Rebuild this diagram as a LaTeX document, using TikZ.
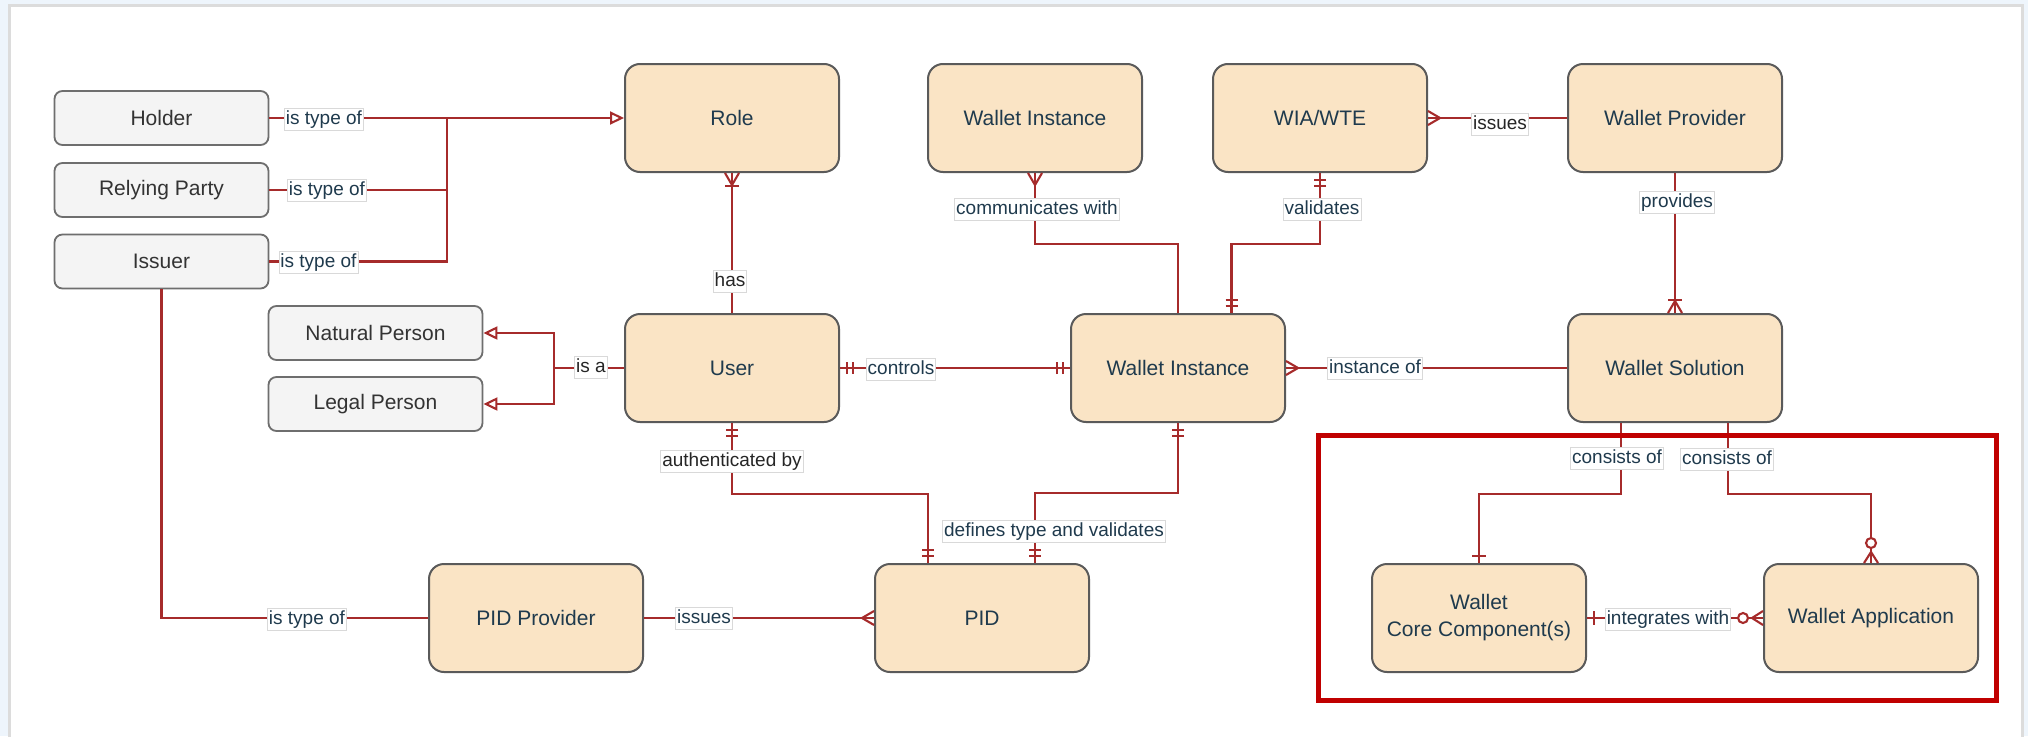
\documentclass[tikz,border=0pt]{standalone}
\usepackage{fontspec}
\setmainfont{Liberation Sans}
\usetikzlibrary{arrows.meta,calc}

\definecolor{pagebg}{HTML}{EEF5FC}
\definecolor{frameline}{HTML}{DCDCDC}
\definecolor{entfill}{HTML}{FAE4C5}
\definecolor{entline}{HTML}{5A5A5A}
\definecolor{subfill}{HTML}{F4F4F4}
\definecolor{subline}{HTML}{6E6E6E}
\definecolor{relc}{HTML}{A62B2B}
\definecolor{ink}{HTML}{1F3A4D}
\definecolor{hilite}{HTML}{C00000}

\tikzset{
  erMany/.pic={\draw[conn] (0,-7) -- (12,0) -- (0,7);},
  erOneMany/.pic={\draw[conn] (0,-7) -- (12,0) -- (0,7); \draw[conn] (13,-7) -- (13,7);},
  erOnlyOne/.pic={\draw[conn] (7,-6) -- (7,6) (13,-6) -- (13,6);},
  erOne/.pic={\draw[conn] (7,-7) -- (7,7);},
  erZeroMany/.pic={\draw[conn] (0,-7) -- (11,0) -- (0,7); \draw[conn,fill=white] (20,0) circle[radius=5pt];},
}

\begin{document}
\begin{tikzpicture}[x=1pt,y=-1pt,
  entity/.style={draw=entline, line width=2pt, fill=entfill, rounded corners=15pt,
    minimum width=214pt, minimum height=108pt, inner sep=0pt, align=center,
    text=ink, font=\fontsize{21}{27}\selectfont},
  subtype/.style={draw=subline, line width=1.8pt, fill=subfill, rounded corners=8pt,
    minimum width=214pt, minimum height=54pt, inner sep=0pt,
    text=black!80, font=\fontsize{21}{26}\selectfont},
  conn/.style={draw=relc, line width=2.1pt},
  gen/.style={conn, -{Triangle[open, length=14pt, width=13pt, fill=white]}},
  lbl/.style={draw=black!15, line width=0.8pt, fill=white, inner xsep=1.5pt, inner ysep=2pt,
    text height=14pt, text depth=4pt, text=ink, font=\fontsize{19}{22}\selectfont},
  lbldark/.style={lbl, text=black!85},
]
\useasboundingbox (0,0) rectangle (2028,736);
\fill[pagebg] (0,0) rectangle (2028,736);
\draw[frameline, line width=2.5pt, fill=white] (9.5,5.5) rectangle (2022.5,760);

% entities
\node[entity] (role)    at (732,118)  {Role};
\node[entity] (witop)   at (1035,118) {Wallet Instance};
\node[entity] (wia)     at (1320,118) {WIA/WTE};
\node[entity] (wprov)   at (1675,118) {Wallet Provider};
\node[entity] (user)    at (732,368)  {User};
\node[entity] (wimid)   at (1178,368) {Wallet Instance};
\node[entity] (wsol)    at (1675,368) {Wallet Solution};
\node[entity] (pidprov) at (536,618)  {PID Provider};
\node[entity] (pid)     at (982,618)  {PID};
\node[entity] (wcc)     at (1479,618) {Wallet\\Core Component(s)};
\node[entity] (wapp)    at (1871,618) {Wallet Application};

% role and person subtypes
\node[subtype] (holder) at (161.5,118)   {Holder};
\node[subtype] (rp)     at (161.5,190)   {Relying Party};
\node[subtype] (issuer) at (161.5,261.5) {Issuer};
\node[subtype] (np)     at (375.5,333)   {Natural Person};
\node[subtype] (lp)     at (375.5,404)   {Legal Person};

% junction points
\coordinate (tj)  at (447,118);
\coordinate (isa) at (554,368);

% generalisation links
\draw[gen] (holder.east) -- (role.west);
\draw[conn] (rp.east) -| (tj);
\draw[conn] (issuer.east) -| (tj);
\draw[conn] (issuer.south) |- (pidprov.west);
\draw[conn] (user.west) -- (isa);
\draw[gen] (isa) |- (np.east);
\draw[gen] (isa) |- (lp.east);

% relationships
\draw[conn] (role.south) -- (user.north);
\draw[conn] (witop.south) -- ++(0,71) -| (wimid.north);
\draw[conn] (wia.south) -- ++(0,71) -| ($(wimid.north)+(53.5,0)$);
\draw[conn] (wprov.west) -- (wia.east);
\draw[conn] (wprov.south) -- (wsol.north);
\draw[conn] (user.east) -- (wimid.west);
\draw[conn] (wimid.east) -- (wsol.west);
\draw[conn] (user.south) -- ++(0,71) -| ($(pid.north)+(-54,0)$);
\draw[conn] (wimid.south) -- ++(0,70) -| ($(pid.north)+(53,0)$);
\draw[conn] (pidprov.east) -- (pid.west);
\draw[conn] ($(wsol.south)+(-54,0)$) -- ++(0,71) -| (wcc.north);
\draw[conn] ($(wsol.south)+(53,0)$) -- ++(0,71) -| (wapp.north);
\draw[conn] (wcc.east) -- (wapp.west);

% cardinality markers
\pic[rotate=-90] at (role.south) {erOneMany};
\pic[rotate=-90] at (witop.south) {erMany};
\pic[rotate=-90] at (wia.south) {erOnlyOne};
\pic[rotate=90] at ($(wimid.north)+(53.5,0)$) {erOnlyOne};
\pic at (wia.east) {erMany};
\pic[rotate=90] at (wsol.north) {erOneMany};
\pic at (user.east) {erOnlyOne};
\pic[rotate=180] at (wimid.west) {erOnlyOne};
\pic at (wimid.east) {erMany};
\pic[rotate=-90] at (user.south) {erOnlyOne};
\pic[rotate=90] at ($(pid.north)+(-54,0)$) {erOnlyOne};
\pic[rotate=-90] at (wimid.south) {erOnlyOne};
\pic[rotate=90] at ($(pid.north)+(53,0)$) {erOnlyOne};
\pic[rotate=180] at (pid.west) {erMany};
\pic[rotate=90] at (wcc.north) {erOne};
\pic[rotate=90] at (wapp.north) {erZeroMany};
\pic at (wcc.east) {erOne};
\pic[rotate=180] at (wapp.west) {erZeroMany};

% relationship labels
\node[lbl] (l1)  at (324,119)   {is type of};
\node[lbl] (l2)  at (327,190)   {is type of};
\node[lbl] (l3)  at (318.5,262) {is type of};
\node[lbl] (l4)  at (307,619)   {is type of};
\node[lbldark] (l5)  at (730,281)   {has};
\node[lbl] (l6)  at (1037,209)  {communicates with};
\node[lbl] (l7)  at (1322,209)  {validates};
\node[lbldark] (l8)  at (1500,124)  {issues};
\node[lbl] (l9)  at (1677,202)  {provides};
\node[lbl] (l10) at (901,369)   {controls};
\node[lbl] (l11) at (1375,368)  {instance of};
\node[lbldark] (l12) at (591,367)   {is a};
\node[lbldark] (l13) at (732,461)   {authenticated by};
\node[lbl] (l14) at (1054,531)  {defines type and validates};
\node[lbl] (l15) at (704,618)   {issues};
\node[lbl] (l16) at (1617,458)  {consists of};
\node[lbl] (l17) at (1727,459)  {consists of};
\node[lbl] (l18) at (1668,619)  {integrates with};

% highlighted group
\draw[hilite, line width=5pt] (1318,435) rectangle (1996,700);
\end{tikzpicture}
\end{document}
